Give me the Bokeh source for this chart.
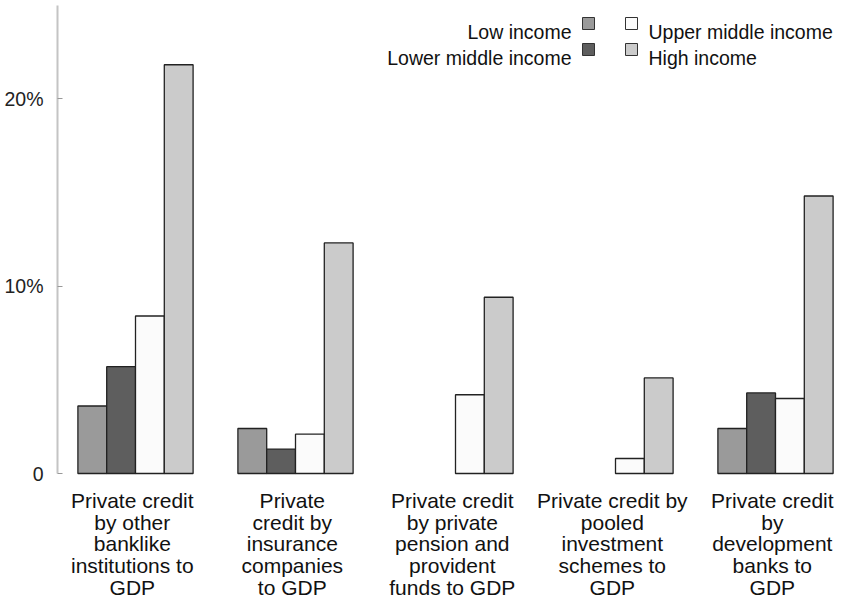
import numpy as np
from bokeh.plotting import figure
from bokeh.models import Range1d, FixedTicker, ColumnDataSource
from bokeh.core.properties import value
from bokeh.embed import file_html
from bokeh.resources import INLINE

# ---------------- data ----------------
categories = [
    "Private credit\nby other\nbanklike\ninstitutions to\nGDP",
    "Private\ncredit by\ninsurance\ncompanies\nto GDP",
    "Private credit\nby private\npension and\nprovident\nfunds to GDP",
    "Private credit by\npooled\ninvestment\nschemes to\nGDP",
    "Private credit\nby\ndevelopment\nbanks to\nGDP",
]
series_names = ["Low income", "Lower middle income", "Upper middle income", "High income"]
low_income = [3.6, 2.4, np.nan, np.nan, 2.4]
lower_middle_income = [5.7, 1.3, np.nan, np.nan, 4.3]
upper_middle_income = [8.4, 2.1, 4.2, 0.8, 4.0]
high_income = [21.8, 12.3, 9.4, 5.1, 14.8]
y_ticks = [0, 10, 20]
y_tick_labels = ["0", "10%", "20%"]

series_values = [low_income, lower_middle_income, upper_middle_income, high_income]
colors = ["#9a9a9a", "#5e5e5e", "#fbfbfb", "#cbcbcb"]

FONT = "Liberation Sans"

# ---------------- figure ----------------
W, H = 865, 605
p = figure(width=W, height=H, output_backend="svg", toolbar_location=None,
           min_border_left=57, min_border_right=0, min_border_top=5, min_border_bottom=0)
p.x_range = Range1d(-0.4875, 4.5625)
p.y_range = Range1d(-7.04, 24.96)
p.xaxis.visible = False
p.xgrid.visible = False
p.ygrid.visible = False
p.outline_line_color = None
p.background_fill_color = "white"
p.border_fill_color = "white"

yax = p.yaxis[0]
yax.ticker = FixedTicker(ticks=y_ticks)
yax.major_label_overrides = {t: l for t, l in zip(y_ticks, y_tick_labels)}
yax.bounds = (0, 25)
yax.axis_line_color = "#c4c4c4"
yax.axis_line_width = 2
yax.major_tick_in = 5
yax.major_tick_out = 0
yax.major_tick_line_color = "#999999"
yax.minor_tick_line_color = None
yax.major_label_text_font = FONT
yax.major_label_text_font_size = "19.5px"
yax.major_label_text_color = "#222222"
yax.major_label_standoff = 14

# px helpers (layout only)
def px_to_y(py):
    return (473 - py) / 18.75

def px_to_x(px):
    return (px - 135) / 160

# ---------------- bars ----------------
bar_w = 0.18
x_idx = np.arange(len(categories))
for i, (name, vals, col) in enumerate(zip(series_names, series_values, colors)):
    offs = (i - 1.5) * bar_w
    vals = np.array(vals, dtype=float)
    mask = ~np.isnan(vals)
    src = ColumnDataSource(dict(x=(x_idx + offs)[mask], top=vals[mask]))
    p.vbar(x="x", top="top", bottom=0, width=bar_w, source=src,
           fill_color=col, line_color="#222222", line_width=1.3)

# ---------------- category labels ----------------
line_step = 21.7 / 18.75
lx, ly, lt = [], [], []
for i, lab in enumerate(categories):
    for j, line in enumerate(lab.split("\n")):
        lx.append(i - 0.02)
        ly.append(px_to_y(500) - j * line_step)
        lt.append(line)
p.text(x=lx, y=ly, text=lt, text_align="center", text_baseline="alphabetic",
       text_font=value(FONT), text_font_size="21px", text_color="#111111")

# ---------------- legend (manual) ----------------
sq_x = [px_to_x(588), px_to_x(588), px_to_x(631), px_to_x(631)]
sq_y = [px_to_y(23), px_to_y(49), px_to_y(23), px_to_y(49)]
p.scatter(x=sq_x, y=sq_y, marker="square", size=12, fill_color=colors,
          line_color="#333333", line_width=1)
p.text(x=[px_to_x(571)] * 2, y=[px_to_y(31), px_to_y(57)], text=series_names[:2],
       text_align="right", text_baseline="alphabetic",
       text_font=value(FONT), text_font_size="19.5px", text_color="#111111")
p.text(x=[px_to_x(648)] * 2, y=[px_to_y(31), px_to_y(57)], text=series_names[2:],
       text_align="left", text_baseline="alphabetic",
       text_font=value(FONT), text_font_size="19.5px", text_color="#111111")

open("out.html", "w").write(file_html(p, INLINE))
